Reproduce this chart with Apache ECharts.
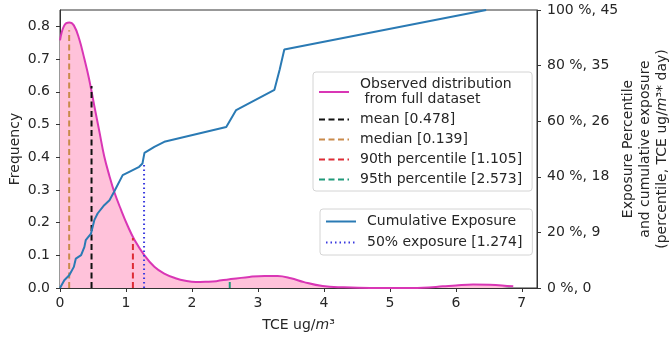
<!DOCTYPE html>
<html>
<head>
<meta charset="utf-8">
<script src="https://cdn.jsdelivr.net/npm/echarts@6/dist/echarts.min.js"></script>
<style>html,body{margin:0;padding:0;background:#fff;}#c{width:671px;height:339px;}</style>
</head>
<body>
<div id="c"></div>
<script>
// KDE of observed distribution (Frequency, left axis)
const kdeX = [0, 0.065, 0.14, 0.21, 0.29, 0.37, 0.44, 0.52, 0.60, 0.67, 0.75, 0.82, 0.925, 1.03, 1.13, 1.28, 1.43, 1.58, 1.75, 1.9, 2.06, 2.22, 2.37, 2.57, 2.87, 3.1, 3.3, 3.5, 3.7, 3.98, 4.3, 4.7, 5.1, 5.5, 5.8, 6.0, 6.26, 6.51, 6.7, 6.87];
const kdeY = [0.757, 0.803, 0.812, 0.803, 0.762, 0.70, 0.64, 0.557, 0.475, 0.403, 0.342, 0.295, 0.239, 0.188, 0.147, 0.100, 0.065, 0.044, 0.030, 0.022, 0.018, 0.019, 0.021, 0.027, 0.034, 0.037, 0.037, 0.030, 0.018, 0.006, 0.002, 0.000, 0.000, 0.001, 0.005, 0.008, 0.011, 0.010, 0.008, 0.005];

// Cumulative exposure (percent, right axis)
const cumX = [0, 0.065, 0.14, 0.21, 0.24, 0.32, 0.37, 0.39, 0.47, 0.52, 0.57, 0.67, 0.75, 0.82, 0.95, 1.05, 1.2, 1.25, 1.28, 1.43, 1.58, 2.52, 2.67, 3.25, 3.33, 3.40, 6.46];
const cumY = [0, 2.8, 4.6, 7.6, 10.6, 11.8, 14.8, 17.2, 19.6, 24.4, 26.8, 29.8, 31.6, 34.6, 40.6, 41.8, 43.6, 44.8, 48.6, 50.8, 52.6, 57.9, 64.0, 71.3, 78.6, 85.8, 100];

// Reference statistics
const statNames = ['mean [0.478]', 'median [0.139]', '90th percentile [1.105]', '95th percentile [2.573]'];
const statX = [0.478, 0.139, 1.105, 2.573];
const statTop = [0.618, 0.788, 0.153, 0.027];
const statColors = ['#111111', '#c98a4b', '#dd2c36', '#1f9a7a'];

const exposure50Name = '50% exposure [1.274]';
const exposure50X = 1.274;
const exposure50Top = 45;

const kdeName = 'Observed distribution\n from full dataset';
const cumName = 'Cumulative Exposure';

const leftTicks = [0, 0.1, 0.2, 0.3, 0.4, 0.5, 0.6, 0.7, 0.8];
const rightTickLabels = {0: '0 %, 0', 20: '20 %, 9', 40: '40 %, 18', 60: '60 %, 26', 80: '80 %, 35', 100: '100 %, 45'};
const xTicks = [0, 1, 2, 3, 4, 5, 6, 7];

const FONT = 'DejaVu Sans';
const FS = 14;
const TXT = '#262626';

const series = [];
series.push({
  name: kdeName, type: 'line', yAxisIndex: 0, smooth: 0.4, symbol: 'none',
  data: kdeX.map((x, i) => [x, kdeY[i]]),
  lineStyle: {color: '#d936b5', width: 2},
  itemStyle: {color: '#d936b5'},
  areaStyle: {color: '#ffc2da', opacity: 1},
  z: 2
});
statNames.forEach((n, i) => {
  series.push({
    name: n, type: 'line', yAxisIndex: 0, symbol: 'none',
    data: [[statX[i], 0], [statX[i], statTop[i]]],
    lineStyle: {color: statColors[i], width: 2, type: [6, 3.5]},
    itemStyle: {color: statColors[i]},
    z: 3
  });
});
series.push({
  name: cumName, type: 'line', yAxisIndex: 1, symbol: 'none',
  data: cumX.map((x, i) => [x, cumY[i]]),
  lineStyle: {color: '#2a7ab4', width: 2},
  itemStyle: {color: '#2a7ab4'},
  z: 4
});
series.push({
  name: exposure50Name, type: 'line', yAxisIndex: 1, symbol: 'none',
  data: [[exposure50X, 0], [exposure50X, exposure50Top]],
  lineStyle: {color: '#3a3ae0', width: 2, type: [1.5, 3]},
  itemStyle: {color: '#3a3ae0'},
  z: 3
});

const legendCommon = {
  orient: 'vertical', selectedMode: false,
  backgroundColor: 'rgba(255,255,255,0.85)', borderColor: '#d4d4d4', borderWidth: 1, borderRadius: 3,
  itemWidth: 30, itemHeight: 12, itemGap: 5,
  itemStyle: {opacity: 0, borderWidth: 0},
  textStyle: {fontFamily: FONT, fontSize: FS, color: TXT, lineHeight: 15, padding: [0, 0, 0, 6]}
};

const chart = echarts.init(document.getElementById('c'), null, {renderer: 'canvas'});
chart.setOption({
  animation: false,
  backgroundColor: '#fff',
  grid: {left: 60, right: 134, top: 10, bottom: 51, containLabel: false, outerBoundsMode: 'none',
    show: true, borderColor: '#333', borderWidth: 1, backgroundColor: 'transparent'},
  legend: [
    Object.assign({}, legendCommon, {left: 313, top: 72, padding: [5, 10, 4, 5], data: [kdeName].concat(statNames)}),
    Object.assign({}, legendCommon, {left: 320, top: 209, padding: [5, 10, 5, 5], itemGap: 6, data: [cumName, exposure50Name]})
  ],
  xAxis: {
    type: 'value', min: 0, max: 7.23, interval: 1,
    name: 'TCE ug/{i|m}³', nameLocation: 'middle', nameGap: 30, nameMoveOverlap: false,
    nameTextStyle: {fontFamily: FONT, fontSize: FS, color: TXT, rich: {i: {fontStyle: 'italic', fontFamily: FONT, fontSize: FS, color: TXT}}},
    axisLine: {lineStyle: {color: '#333'}},
    axisTick: {show: true, length: 4, lineStyle: {color: '#333'}},
    axisLabel: {fontFamily: FONT, fontSize: FS, color: TXT, margin: 8, showMaxLabel: false,
      formatter: v => (xTicks.indexOf(v) >= 0 ? String(v) : '')},
    splitLine: {show: false}
  },
  yAxis: [
    {
      type: 'value', min: 0, max: 0.85, interval: 0.1, position: 'left',
      name: 'Frequency', nameLocation: 'middle', nameGap: 38, nameRotate: 90, nameMoveOverlap: false,
      nameTextStyle: {fontFamily: FONT, fontSize: FS, color: TXT},
      axisLine: {show: true, lineStyle: {color: '#333'}},
      axisTick: {show: true, length: 4, lineStyle: {color: '#333'}},
      axisLabel: {fontFamily: FONT, fontSize: FS, color: TXT, margin: 10, showMaxLabel: false,
        formatter: v => { const t = leftTicks.find(k => Math.abs(k - v) < 1e-6); return t === undefined ? '' : t.toFixed(1); }},
      splitLine: {show: false}
    },
    {
      type: 'value', min: 0, max: 100, interval: 20, position: 'right',
      name: 'Exposure Percentile\nand cumulative exposure\n(percentile, TCE ug/{i|m}³* day)',
      nameLocation: 'middle', nameGap: 83, nameRotate: 90, nameMoveOverlap: false,
      nameTextStyle: {fontFamily: FONT, fontSize: FS, color: TXT, lineHeight: 17, align: 'center',
        rich: {i: {fontStyle: 'italic', fontFamily: FONT, fontSize: FS, color: TXT, lineHeight: 17}}},
      axisLine: {show: true, lineStyle: {color: '#333'}},
      axisTick: {show: true, length: 4, lineStyle: {color: '#333'}},
      axisLabel: {fontFamily: FONT, fontSize: FS, color: TXT, margin: 10,
        formatter: v => rightTickLabels[Math.round(v)] || ''},
      splitLine: {show: false}
    }
  ],
  series: series
});
</script>
</body>
</html>
